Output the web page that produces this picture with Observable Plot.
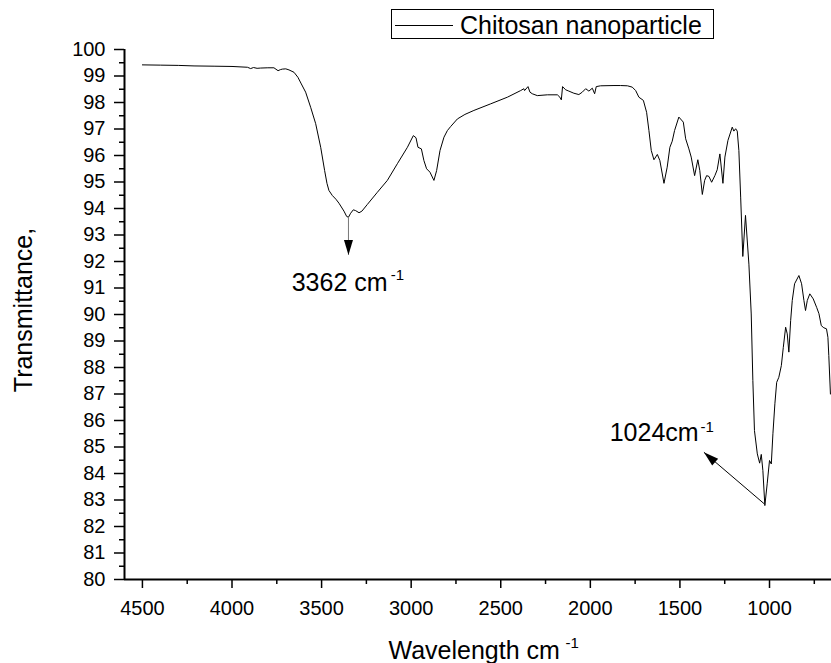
<!DOCTYPE html>
<html>
<head>
<meta charset="utf-8">
<script src="https://cdn.jsdelivr.net/npm/d3@7"></script>
<script src="https://cdn.jsdelivr.net/npm/@observablehq/plot@0.6"></script>
<style>
  html, body { margin: 0; padding: 0; background: #fff; }
  #wrap { position: relative; width: 831px; height: 663px; font-family: 'Liberation Sans', Arial, sans-serif; }
  #legend { position: absolute; left: 391px; top: 9px; width: 323px; height: 30px; border: 1px solid #000; box-sizing: border-box; background: #fff; }
  #legend svg { position: absolute; left: 0; top: 0; }
  #legend span { position: absolute; left: 68px; top: 1px; font-size: 25px; line-height: 28px; color: #000; white-space: nowrap; }
  #ytitle { position: absolute; left: 23px; top: 310px; transform: translate(-50%, -50%) rotate(-90deg); font-size: 25px; line-height: 28px; color: #000; white-space: nowrap; }
</style>
</head>
<body>
<div id="wrap">
  <div id="chart"></div>
  <div id="legend"><svg width="70" height="30"><line x1="3" x2="61" y1="15.5" y2="15.5" stroke="#000" stroke-width="1"/></svg><span>Chitosan nanoparticle</span></div>
  <div id="ytitle">Transmittance,</div>
</div>
<script>
// Spectrum: wavenumber (cm-1) and transmittance (%)
const wavenumber = [4500,4400,4300,4212,4100,4000,3914,3896,3880,3860,3840,3800,3766,3743,3730,3719,3700,3682,3654,3632,3613,3589,3561,3533,3505,3483,3470,3459,3440,3420,3403,3375,3360,3350,3338,3323,3310,3291,3275,3245,3189,3133,3077,3021,2988,2973,2962,2943,2929,2914,2895,2873,2858,2839,2817,2798,2780,2742,2700,2650,2556,2463,2389,2371,2367,2348,2337,2324,2296,2240,2184,2170,2162,2155,2138,2120,2092,2064,2045,2026,2008,1989,1976,1967,1943,1868,1831,1793,1766,1747,1729,1704,1686,1673,1660,1645,1626,1612,1589,1571,1556,1543,1530,1506,1481,1468,1450,1437,1418,1400,1389,1375,1362,1351,1338,1323,1305,1292,1277,1260,1249,1232,1208,1199,1189,1180,1171,1161,1149,1134,1115,1102,1093,1084,1068,1055,1046,1037,1026,1013,1000,990,981,970,960,948,934,923,910,901,892,882,873,860,836,821,808,799,789,775,756,737,724,711,697,682,674,669,660];
const transmittance = [99.42,99.41,99.40,99.38,99.37,99.36,99.33,99.28,99.32,99.29,99.30,99.31,99.31,99.20,99.24,99.26,99.27,99.23,99.14,98.95,98.70,98.39,97.82,97.20,96.31,95.43,94.95,94.68,94.49,94.35,94.20,93.90,93.70,93.67,93.82,93.95,93.92,93.84,93.90,94.15,94.61,95.06,95.69,96.31,96.75,96.67,96.31,96.25,95.81,95.50,95.37,95.06,95.43,96.19,96.69,96.94,97.09,97.38,97.55,97.70,97.95,98.20,98.45,98.52,98.45,98.60,98.39,98.33,98.26,98.29,98.29,98.20,98.10,98.60,98.48,98.43,98.35,98.30,98.39,98.52,98.43,98.54,98.33,98.60,98.63,98.64,98.64,98.63,98.58,98.45,98.20,98.08,97.63,96.94,96.19,95.84,96.04,95.81,94.95,95.56,96.31,96.54,96.94,97.45,97.26,96.63,96.25,95.94,95.24,95.84,95.43,94.53,95.06,95.24,95.21,94.99,95.24,95.46,96.06,94.95,95.94,96.57,97.07,96.92,97.01,96.92,96.19,94.43,92.19,93.74,91.90,90.02,87.51,85.62,84.74,84.39,84.72,84.11,82.79,83.61,84.49,84.36,85.50,86.63,87.44,87.63,88.07,88.76,89.52,89.27,88.58,89.77,90.53,91.16,91.47,91.16,90.53,90.15,90.53,90.78,90.59,90.27,90.03,89.58,89.50,89.46,89.14,88.45,87.00];

// Axes
const xDomain = [4600, 654];
const yDomain = [80, 100];
const xTicks = [4500, 4000, 3500, 3000, 2500, 2000, 1500, 1000];
const xMinorTicks = [4250, 3750, 3250, 2750, 2250, 1750, 1250, 750];
const yTicks = [80,81,82,83,84,85,86,87,88,89,90,91,92,93,94,95,96,97,98,99,100];
const yMinorTicks = [80.5,81.5,82.5,83.5,84.5,85.5,86.5,87.5,88.5,89.5,90.5,91.5,92.5,93.5,94.5,95.5,96.5,97.5,98.5,99.5];

// Annotations: arrow from peak to label
const arrowFrom = [{x: 3350, y: 93.67}, {x: 1030, y: 82.86}];
const arrowTo   = [{x: 3350, y: 92.25}, {x: 1366, y: 84.80}];
const arrowColor = ["#777", "#000"];
const arrowAngle = [180, -48.5];
const labelText = ["3362 cm", "1024cm"];
const labelPos = [{x: 3667, y: 90.9}, {x: 1892, y: 85.21}];
const supPos = [{x: 3114, y: 91.32}, {x: 1385, y: 85.55}];

const spectrum = wavenumber.map((w, i) => ({w, t: transmittance[i]}));
const arrows = arrowFrom.map((a, i) => ({x1: a.x, y1: a.y, x2: arrowTo[i].x, y2: arrowTo[i].y, c: arrowColor[i], angle: arrowAngle[i]}));
const labels = labelText.map((s, i) => ({s, x: labelPos[i].x, y: labelPos[i].y, sx: supPos[i].x, sy: supPos[i].y}));

const arrowHead = {draw(ctx) { ctx.moveTo(0, 0); ctx.lineTo(4.5, 15); ctx.lineTo(-4.5, 15); ctx.closePath(); }};

const chart = Plot.plot({
  width: 831,
  height: 663,
  marginLeft: 124,
  marginRight: 0,
  marginTop: 49,
  marginBottom: 84,
  style: {fontFamily: "'Liberation Sans', Arial, sans-serif", background: "#fff", color: "#000", overflow: "visible"},
  x: {domain: xDomain, label: null},
  y: {domain: yDomain, label: null},
  marks: [
    Plot.axisY({ticks: yTicks, tickSize: 10, tickPadding: 9, fontSize: 20, label: null, strokeWidth: 1.5, tickFormat: d => String(d)}),
    Plot.axisY({ticks: yMinorTicks, tickSize: 5, label: null, strokeWidth: 1.5, tickFormat: () => ""}),
    Plot.axisX({ticks: xTicks, tickSize: 9, tickPadding: 12, fontSize: 20, label: null, strokeWidth: 1.5, tickFormat: d => String(d)}),
    Plot.axisX({ticks: xMinorTicks, tickSize: 5, label: null, strokeWidth: 1.5, tickFormat: () => ""}),
    Plot.ruleY([yDomain[0]], {strokeWidth: 2}),
    Plot.ruleX([xDomain[0]], {strokeWidth: 2}),
    Plot.line(spectrum, {x: "w", y: "t", stroke: "#000", strokeWidth: 1}),
    Plot.link(arrows, {x1: "x1", y1: "y1", x2: "x2", y2: "y2", stroke: "c", strokeWidth: 1}),
    Plot.dot(arrows, {x: "x2", y: "y2", symbol: arrowHead, rotate: "angle", fill: "#000", stroke: "none"}),
    Plot.text(labels, {x: "x", y: "y", text: "s", textAnchor: "start", lineAnchor: "bottom", fontSize: 25, fill: "#000"}),
    Plot.text(labels, {x: "sx", y: "sy", text: () => "-1", textAnchor: "start", lineAnchor: "bottom", fontSize: 15, fill: "#000"}),
    Plot.text(["Wavelength cm"], {frameAnchor: "bottom", textAnchor: "start", lineAnchor: "bottom", dx: -89.5, dy: 79, fontSize: 25, fill: "#000"}),
    Plot.text(["-1"], {frameAnchor: "bottom", textAnchor: "start", lineAnchor: "bottom", dx: 87.5, dy: 68, fontSize: 15, fill: "#000"})
  ]
});
document.getElementById("chart").appendChild(chart);
</script>
</body>
</html>
